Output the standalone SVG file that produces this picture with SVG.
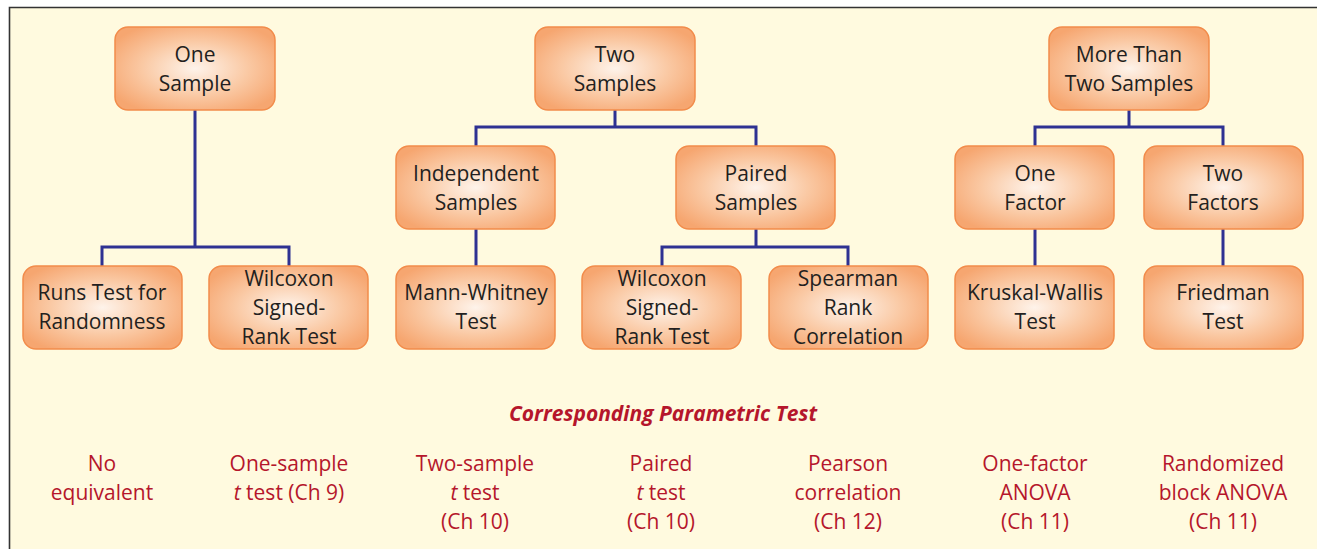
<svg xmlns="http://www.w3.org/2000/svg" width="1317" height="549" viewBox="0 0 1317 549">
<style>
.node rect{fill:url(#ng);stroke:#F28C4B;stroke-width:1.5}
.node text{font-family:"Open Sans","Noto Sans",sans-serif;font-size:21px;fill:#231F20;text-anchor:middle}
.conn path{fill:none;stroke:#2E3192;stroke-width:3}
.red{font-family:"Open Sans","Noto Sans",sans-serif;font-size:21px;fill:#B5162B;text-anchor:middle}
.head{font-weight:bold;font-style:italic}
</style>
<defs>
<radialGradient id="ng" cx="0.5" cy="0.5" r="0.6">
<stop offset="0" stop-color="#FEF3EA"/>
<stop offset="0.55" stop-color="#FAC9A4"/>
<stop offset="1" stop-color="#F6A670"/>
</radialGradient>
</defs>
<rect x="0" y="0" width="1317" height="549" fill="#FFFFFF"/>
<rect x="9" y="7" width="1308" height="542" fill="#FFFADF"/>
<path d="M9.5,549 V7.5 H1317" fill="none" stroke="#333333" stroke-width="1.6"/>
<g class="conn">
<path d="M195,110 V247 M102,266 V247 H289 V266"/>
<path d="M615,110 V127 M476,146 V127 H756 V146"/>
<path d="M476,229 V266"/>
<path d="M756,229 V247 M662,266 V247 H848 V266"/>
<path d="M1129,110 V127 M1035,146 V127 H1223 V146"/>
<path d="M1035,229 V266"/>
<path d="M1223,229 V266"/>
</g>
<g id="one-sample" class="node"><rect x="115" y="27" width="160" height="83" rx="13"/><text x="195" y="62">One</text><text x="195" y="91">Sample</text></g>
<g id="two-samples" class="node"><rect x="535" y="27" width="160" height="83" rx="13"/><text x="615" y="62">Two</text><text x="615" y="91">Samples</text></g>
<g id="more-than-two" class="node"><rect x="1049" y="27" width="160" height="83" rx="13"/><text x="1129" y="62">More Than</text><text x="1129" y="91">Two Samples</text></g>
<g id="independent" class="node"><rect x="396" y="146" width="159" height="83" rx="13"/><text x="476" y="181">Independent</text><text x="476" y="210">Samples</text></g>
<g id="paired" class="node"><rect x="676" y="146" width="159" height="83" rx="13"/><text x="756" y="181">Paired</text><text x="756" y="210">Samples</text></g>
<g id="one-factor" class="node"><rect x="955" y="146" width="159" height="83" rx="13"/><text x="1035" y="181">One</text><text x="1035" y="210">Factor</text></g>
<g id="two-factors" class="node"><rect x="1144" y="146" width="159" height="83" rx="13"/><text x="1223" y="181">Two</text><text x="1223" y="210">Factors</text></g>
<g id="runs-test" class="node"><rect x="23" y="266" width="159" height="83" rx="13"/><text x="102" y="300">Runs Test for</text><text x="102" y="329">Randomness</text></g>
<g id="wilcoxon-1" class="node"><rect x="209" y="266" width="159" height="83" rx="13"/><text x="289" y="286">Wilcoxon</text><text x="289" y="315">Signed-</text><text x="289" y="344">Rank Test</text></g>
<g id="mann-whitney" class="node"><rect x="396" y="266" width="159" height="83" rx="13"/><text x="476" y="300">Mann-Whitney</text><text x="476" y="329">Test</text></g>
<g id="wilcoxon-2" class="node"><rect x="582" y="266" width="159" height="83" rx="13"/><text x="662" y="286">Wilcoxon</text><text x="662" y="315">Signed-</text><text x="662" y="344">Rank Test</text></g>
<g id="spearman" class="node"><rect x="769" y="266" width="159" height="83" rx="13"/><text x="848" y="286">Spearman</text><text x="848" y="315">Rank</text><text x="848" y="344">Correlation</text></g>
<g id="kruskal" class="node"><rect x="955" y="266" width="159" height="83" rx="13"/><text x="1035" y="300">Kruskal-Wallis</text><text x="1035" y="329">Test</text></g>
<g id="friedman" class="node"><rect x="1144" y="266" width="159" height="83" rx="13"/><text x="1223" y="300">Friedman</text><text x="1223" y="329">Test</text></g>
<g id="parametric">
<text class="red head" x="663" y="421">Corresponding Parametric Test</text>
<text class="red" x="102" y="471">No</text><text class="red" x="102" y="500">equivalent</text>
<text class="red" x="289" y="471">One-sample</text><text class="red" x="289" y="500"><tspan font-style="italic">t</tspan> test (Ch 9)</text>
<text class="red" x="475" y="471">Two-sample</text><text class="red" x="475" y="500"><tspan font-style="italic">t</tspan> test</text><text class="red" x="475" y="529">(Ch 10)</text>
<text class="red" x="661" y="471">Paired</text><text class="red" x="661" y="500"><tspan font-style="italic">t</tspan> test</text><text class="red" x="661" y="529">(Ch 10)</text>
<text class="red" x="848" y="471">Pearson</text><text class="red" x="848" y="500">correlation</text><text class="red" x="848" y="529">(Ch 12)</text>
<text class="red" x="1035" y="471">One-factor</text><text class="red" x="1035" y="500">ANOVA</text><text class="red" x="1035" y="529">(Ch 11)</text>
<text class="red" x="1223" y="471">Randomized</text><text class="red" x="1223" y="500">block ANOVA</text><text class="red" x="1223" y="529">(Ch 11)</text>
</g>
</svg>
